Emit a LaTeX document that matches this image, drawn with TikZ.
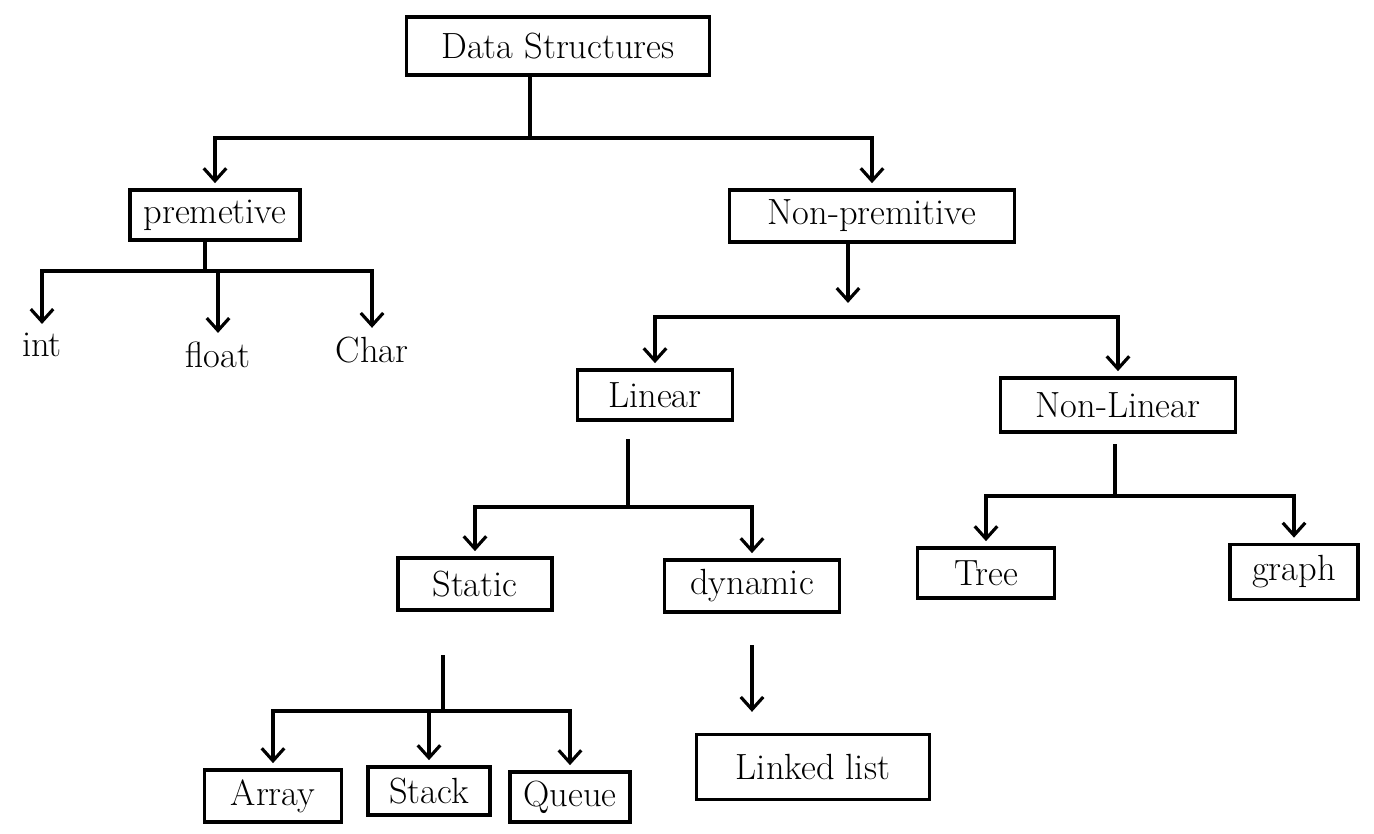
\documentclass[tikz,border=0pt]{standalone}
\usepackage{tikz}
\usetikzlibrary{arrows.meta,positioning}

\begin{document}
\begin{tikzpicture}
	[x=0.02cm,y=-0.02cm,
	box/.style={draw=black,line width=1.8pt,font=\huge,
		inner sep=2pt,minimum height=1cm},
	leaf/.style={font=\huge,inner sep=2pt},
	link/.style={black,line width=1.8pt},
	arr/.style={link,-{Straight Barb[length=2.5mm,width=4.5mm]},shorten >=3pt}]
	\useasboundingbox (0,0) rectangle (1374,834);
	% cajas
	\node[box,minimum width=6.06cm,minimum height=1.16cm] (ds) at (558,46) {Data Structures};
	\node[box,minimum width=3.4cm] (prim) at (215,215) {premetive};
	\node[box,minimum width=5.7cm,minimum height=1.04cm] (nprim) at (872,216) {Non-premitive};
	\node[leaf] (int) at (42,345) {int};
	\node[leaf] (float) at (218,355) {float};
	\node[leaf] (char) at (372,350) {Char};
	\node[box,minimum width=3.1cm] (lin) at (655,395) {Linear};
	\node[box,minimum width=4.7cm,minimum height=1.08cm] (nlin) at (1118,405) {Non-Linear};
	\node[box,minimum width=3.08cm,minimum height=1.04cm] (stat) at (475,584) {Static};
	\node[box,minimum width=3.5cm,minimum height=1.04cm] (dyn) at (752,586) {dynamic};
	\node[box,minimum width=2.74cm] (tree) at (986,573) {Tree};
	\node[box,minimum width=2.56cm,minimum height=1.1cm] (graph) at (1294,572) {graph};
	\node[box,minimum width=2.74cm,minimum height=1.04cm] (array) at (273,796) {Array};
	\node[box,minimum width=2.44cm,minimum height=0.96cm] (stack) at (429,791) {Stack};
	\node[box,minimum width=2.4cm] (queue) at (570,797) {Queue};
	\node[box,minimum width=4.66cm,minimum height=1.3cm] (llist) at (813,767) {Linked list};
	% puntos de reparto
	\coordinate (t1) at (530,138);
	\coordinate (t2) at (205,271);
	\coordinate (t3) at (848,317);
	\coordinate (t4) at (628,507);
	\coordinate (t5) at (1115,496);
	\coordinate (t6) at (443,711);
	% conexiones
	\draw[link] (ds.south -| t1) -- (t1);
	\draw[arr] (t1) -| (prim);
	\draw[arr] (t1) -| (nprim);
	\draw[link] (prim.south -| t2) -- (t2);
	\draw[arr] (t2) -| (int);
	\draw[arr] (t2) -| (float);
	\draw[arr] (t2) -| (char);
	\draw[arr,shorten >=0pt] (nprim.south -| t3) -- ([yshift=8pt]t3);
	\draw[arr] (t3) -| (lin);
	\draw[arr] (t3) -| (nlin);
	\draw[link] ([yshift=-10pt]lin.south -| t4) -- (t4);
	\draw[arr] (t4) -| (stat);
	\draw[arr] (t4) -| (dyn);
	\draw[link] ([yshift=-6pt]nlin.south -| t5) -- (t5);
	\draw[arr] (t5) -| (tree);
	\draw[arr] (t5) -| (graph);
	\draw[link] ([yshift=-25pt]stat.south -| t6) -- (t6);
	\draw[arr] (t6) -| (array);
	\draw[arr] (t6) -| (stack);
	\draw[arr] (t6) -| (queue);
	\draw[arr,shorten >=12pt] ([yshift=-18pt]dyn.south) -- (dyn.south |- llist.north);
\end{tikzpicture}
\end{document}
